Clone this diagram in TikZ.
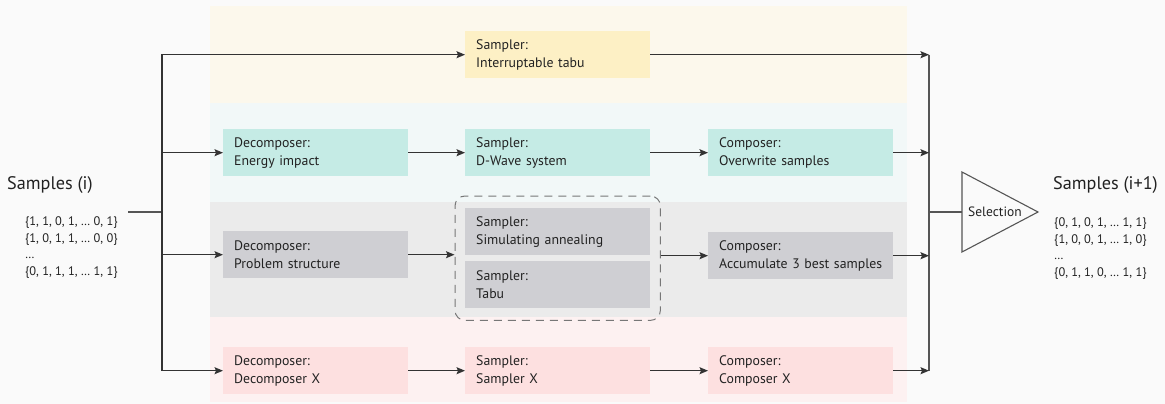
\documentclass[tikz,border=0pt]{standalone}
\usepackage{fontspec}
\setmainfont{PT Sans}
\usetikzlibrary{arrows.meta,fit,calc}

% palette
\definecolor{bgc}{HTML}{FAFAFA}
\definecolor{ink}{HTML}{222222}
\definecolor{wire}{HTML}{333333}
\definecolor{trunkc}{HTML}{555555}
\definecolor{yband}{HTML}{FCF8EC}
\definecolor{ybox}{HTML}{FDF0C5}
\definecolor{cband}{HTML}{F2F8F8}
\definecolor{cbox}{HTML}{C5EBE5}
\definecolor{gband}{HTML}{EBEBEB}
\definecolor{gbox}{HTML}{CFCFD3}
\definecolor{pband}{HTML}{FDF1F1}
\definecolor{pbox}{HTML}{FDE0E0}

\newcommand\bxfont{\fontsize{13.8}{18}\selectfont}
\newcommand\ttlfont{\fontsize{18.2}{21}\selectfont}
\newcommand\setsfont{\fontsize{12.4}{17}\selectfont}
\newcommand\selfont{\fontsize{13.5}{15}\selectfont}

\tikzset{
  stage/.style={anchor=north west, minimum width=185pt, minimum height=47pt,
    text width=163pt, inner xsep=11pt, inner ysep=0pt, align=left,
    font=\bxfont, text=ink},
  ystage/.style={stage, fill=ybox},
  cstage/.style={stage, fill=cbox},
  gstage/.style={stage, fill=gbox},
  pstage/.style={stage, fill=pbox},
  arr/.style={draw=wire, line width=1.1pt,
    -{Stealth[length=8.5pt,width=7pt,inset=1.5pt]}},
  trunk/.style={draw=trunkc, line width=1.3pt},
  txt/.style={anchor=base west, inner sep=0pt, text=ink},
}

\begin{document}
\begin{tikzpicture}[x=1pt,y=-1pt]
  % canvas
  \fill[bgc] (0,0) rectangle (1165,404);
  \useasboundingbox (0,0) rectangle (1165,404);

  % lane backgrounds
  \fill[yband] (210,6)   rectangle (907,103);
  \fill[cband] (210,103) rectangle (907,202);
  \fill[gband] (210,202) rectangle (907,317);
  \fill[pband] (210,317) rectangle (907,402);

  % input samples
  \node[txt, font=\ttlfont] (inL) at (7,189) {Samples (i)};
  \node[txt, font=\setsfont] (sL1) at (25,225) {\{1, 1, 0, 1, … 0, 1\}};
  \node[txt, font=\setsfont] (sL2) at (25,242) {\{1, 0, 1, 1, … 0, 0\}};
  \node[txt, font=\setsfont] (sL3) at (25,258) {…};
  \node[txt, font=\setsfont] (sL4) at (25,275) {\{0, 1, 1, 1, … 1, 1\}};

  % output samples
  \node[txt, font=\ttlfont] (outR) at (1053,189) {Samples (i+1)};
  \node[txt, font=\setsfont] (sR1) at (1054,226) {\{0, 1, 0, 1, … 1, 1\}};
  \node[txt, font=\setsfont] (sR2) at (1054,243) {\{1, 0, 0, 1, … 1, 0\}};
  \node[txt, font=\setsfont] (sR3) at (1054,259) {…};
  \node[txt, font=\setsfont] (sR4) at (1054,276) {\{0, 1, 1, 0, … 1, 1\}};

  % lane 1
  \node[ystage] (yTabu) at (465,31) {Sampler:\\Interruptable tabu};

  % lane 2
  \node[cstage] (dEn) at (223,129) {Decomposer:\\Energy impact};
  \node[cstage] (sDW) at (465,129) {Sampler:\\D-Wave system};
  \node[cstage] (cOw) at (708,129) {Composer:\\Overwrite samples};

  % lane 3
  \node[gstage] (dPS) at (223,231) {Decomposer:\\Problem structure};
  \node[gstage] (sSA) at (465,208) {Sampler:\\Simulating annealing};
  \node[gstage] (sTb) at (465,261) {Sampler:\\Tabu};
  \node[gstage] (cAcc) at (708,232) {Composer:\\Accumulate 3 best samples};
  \node[draw=trunkc!80, dashed, dash pattern=on 8pt off 6pt, line width=1pt,
        rounded corners=10pt, inner xsep=10pt, inner ysep=12pt,
        fit=(sSA)(sTb)] (grp) {};

  % lane 4
  \node[pstage] (dX) at (223,347) {Decomposer:\\Decomposer X};
  \node[pstage] (sX) at (465,347) {Sampler:\\Sampler X};
  \node[pstage] (cX) at (708,347) {Composer:\\Composer X};

  % fan-out
  \coordinate (lstart) at (128,212);
  \coordinate (jl) at (162,212);
  \draw[trunk] (lstart) -- (jl);
  \draw[arr] (jl) |- (yTabu.west);
  \draw[arr] (jl) |- (dEn.west);
  \draw[arr] (jl) |- (dPS.west);
  \draw[arr] (jl) |- (dX.west);

  % lane flows
  \draw[arr] (dEn) -- (sDW);
  \draw[arr] (sDW) -- (cOw);
  \draw[arr] (dPS.east) -- (dPS.east -| grp.west);
  \draw[arr] (grp.east |- cAcc) -- (cAcc.west);
  \draw[arr] (dX) -- (sX);
  \draw[arr] (sX) -- (cX);

  % fan-in
  \coordinate (jr) at (929,212);
  \draw[trunk] (yTabu.east -| jr) -- (cX.east -| jr);
  \draw[arr] (yTabu.east) -- (yTabu.east -| jr);
  \draw[arr] (cOw.east) -- (cOw.east -| jr);
  \draw[arr] (cAcc.east) -- (cAcc.east -| jr);
  \draw[arr] (cX.east) -- (cX.east -| jr);

  % selection
  \node[inner sep=0pt, font=\selfont, text=ink] (sel) at (995,212) {Selection};
  \coordinate (selIn) at (962,212);
  \draw[draw=trunkc, line width=1.1pt, line join=miter] (962,172) -- (1038,212) -- (962,252) -- cycle;
  \draw[trunk] (jr) -- (selIn);
\end{tikzpicture}
\end{document}
